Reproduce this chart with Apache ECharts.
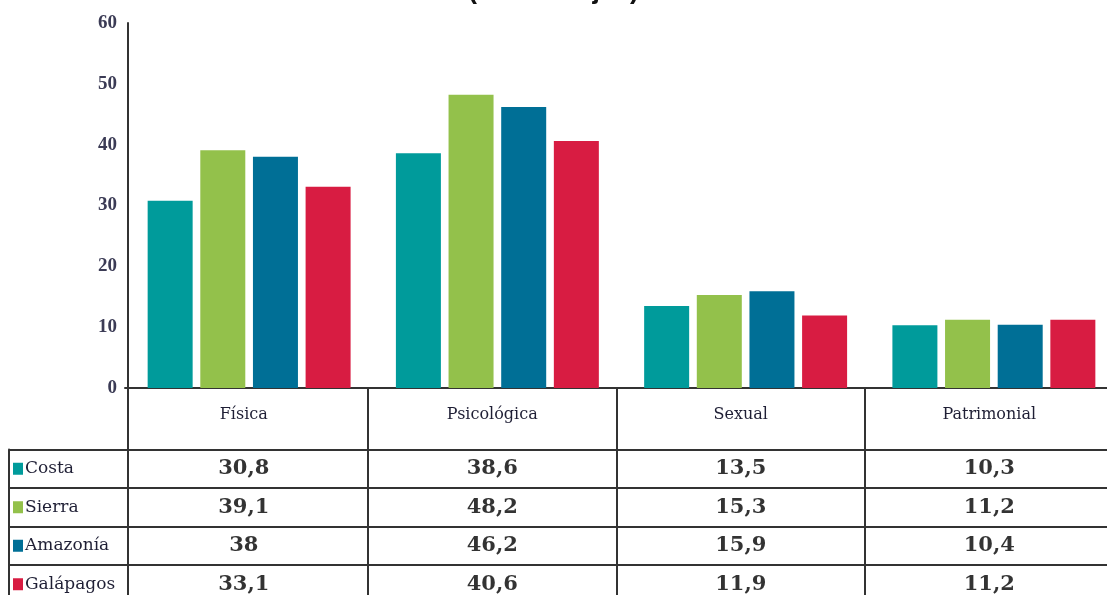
<!DOCTYPE html>
<html>
<head>
<meta charset="utf-8">
<script src="https://cdn.jsdelivr.net/npm/echarts@6/dist/echarts.min.js"></script>
<style>
  html, body { margin: 0; padding: 0; background: #fff; }
  #chart { width: 1107px; height: 595px; }
</style>
</head>
<body>
<div id="chart"></div>
<script>
// tipos de violencia
var categories = ['Física', 'Psicológica', 'Sexual', 'Patrimonial'];
var regions = ['Costa', 'Sierra', 'Amazonía', 'Galápagos'];
var colors = ['#009b9b', '#93c14b', '#006f96', '#d81c42'];
// porcentajes por región
var costa = [30.8, 38.6, 13.5, 10.3];
var sierra = [39.1, 48.2, 15.3, 11.2];
var amazonia = [38, 46.2, 15.9, 10.4];
var galapagos = [33.1, 40.6, 11.9, 11.2];
var yTicks = [0, 10, 20, 30, 40, 50, 60];

var seriesValues = [costa, sierra, amazonia, galapagos];
var serif = '"DejaVu Serif", serif';
var lineColor = '#333';

var myChart = echarts.init(document.getElementById('chart'));

var barSeries = regions.map(function (name, i) {
    return {
        name: name,
        type: 'bar',
        xAxisIndex: 0,
        yAxisIndex: 0,
        data: seriesValues[i],
        barWidth: 45,
        barGap: '17%',
        itemStyle: { color: colors[i] },
        silent: true
    };
});

// celdas de la tabla: [categoria, region, valor]
var cells = [];
regions.forEach(function (r, i) {
    categories.forEach(function (c, j) {
        cells.push([c, r, seriesValues[i][j]]);
    });
});

var rich = { t: { fontFamily: serif, fontSize: 17, color: '#1f1f35', padding: [0, 0, 0, 2] } };
regions.forEach(function (r, i) {
    rich['s' + i] = { width: 10, height: 12, backgroundColor: colors[i] };
});

function skipFirst(i) { return i > 0; }

myChart.setOption({
    animation: false,
    title: {
        text: '(Porcentajes)',
        left: 'center',
        top: -28,
        textStyle: { fontFamily: 'Arial, "Liberation Sans"', fontWeight: 'bold', fontSize: 27, color: '#111' }
    },
    grid: [
        { left: 125, width: 993, top: 23, height: 365, outerBoundsMode: 'none', containLabel: false },   // barras
        { left: 119.5, width: 994, top: 388, height: 61.5, outerBoundsMode: 'none', containLabel: false }, // cabecera
        { left: 119.5, width: 994, top: 449.5, height: 154, outerBoundsMode: 'none', containLabel: false } // tabla
    ],
    xAxis: [
        {
            type: 'category',
            gridIndex: 0,
            data: categories,
            axisLine: { lineStyle: { color: lineColor, width: 2 } },
            axisTick: { show: false },
            axisLabel: { show: false }
        },
        {
            type: 'category',
            gridIndex: 1,
            data: categories,
            position: 'top',
            axisLine: { show: false },
            axisTick: { show: false },
            axisLabel: { inside: true, margin: 19, fontFamily: serif, fontSize: 16, color: '#1f1f35' },
            splitLine: { show: true, interval: skipFirst, lineStyle: { color: lineColor, width: 2 } }
        },
        {
            type: 'category',
            gridIndex: 2,
            data: categories,
            position: 'top',
            axisLine: { show: true, lineStyle: { color: lineColor, width: 2 } },
            axisTick: { show: false },
            axisLabel: { show: false },
            splitLine: { show: true, interval: skipFirst, lineStyle: { color: lineColor, width: 2 } }
        }
    ],
    yAxis: [
        {
            type: 'value',
            gridIndex: 0,
            min: 0,
            max: 60,
            interval: 10,
            offset: -3,
            axisLine: { show: true, lineStyle: { color: lineColor, width: 2 } },
            axisTick: { show: false },
            splitLine: { show: false },
            axisLabel: {
                margin: 11,
                fontFamily: '"Liberation Serif", serif',
                fontWeight: 'bold',
                fontSize: 19,
                color: '#3b3b55',
                formatter: function (v) { return yTicks.indexOf(v) >= 0 ? String(v) : ''; }
            }
        },
        {
            type: 'value',
            gridIndex: 1,
            min: 0,
            max: 1,
            offset: -8.5,
            axisLine: { show: true, lineStyle: { color: lineColor, width: 2 } },
            axisTick: { show: false },
            axisLabel: { show: false },
            splitLine: { show: false }
        },
        {
            type: 'category',
            gridIndex: 2,
            data: regions,
            inverse: true,
            offset: -8.5,
            axisLine: { show: true, lineStyle: { color: lineColor, width: 2 } },
            axisTick: { show: true, length: 119, lineStyle: { color: lineColor, width: 2 } },
            splitLine: { show: true, lineStyle: { color: lineColor, width: 2 } },
            axisLabel: {
                margin: 115,
                align: 'left',
                formatter: function (v, idx) { return '{s' + idx + '|}{t|' + v + '}'; },
                rich: rich
            }
        },
        {
            type: 'category',
            gridIndex: 2,
            data: regions,
            inverse: true,
            position: 'left',
            offset: 110.5,
            axisLine: { show: true, lineStyle: { color: lineColor, width: 2 } },
            axisTick: { show: false },
            axisLabel: { show: false }
        }
    ],
    series: barSeries.concat([{
        type: 'scatter',
        xAxisIndex: 2,
        yAxisIndex: 2,
        data: cells,
        symbolSize: 0,
        silent: true,
        label: {
            show: true,
            position: 'inside',
            fontFamily: serif,
            fontWeight: 'bold',
            fontSize: 21,
            color: '#000',
            formatter: function (p) { return String(p.value[2]).replace('.', ','); }
        }
    }])
});
</script>
</body>
</html>
